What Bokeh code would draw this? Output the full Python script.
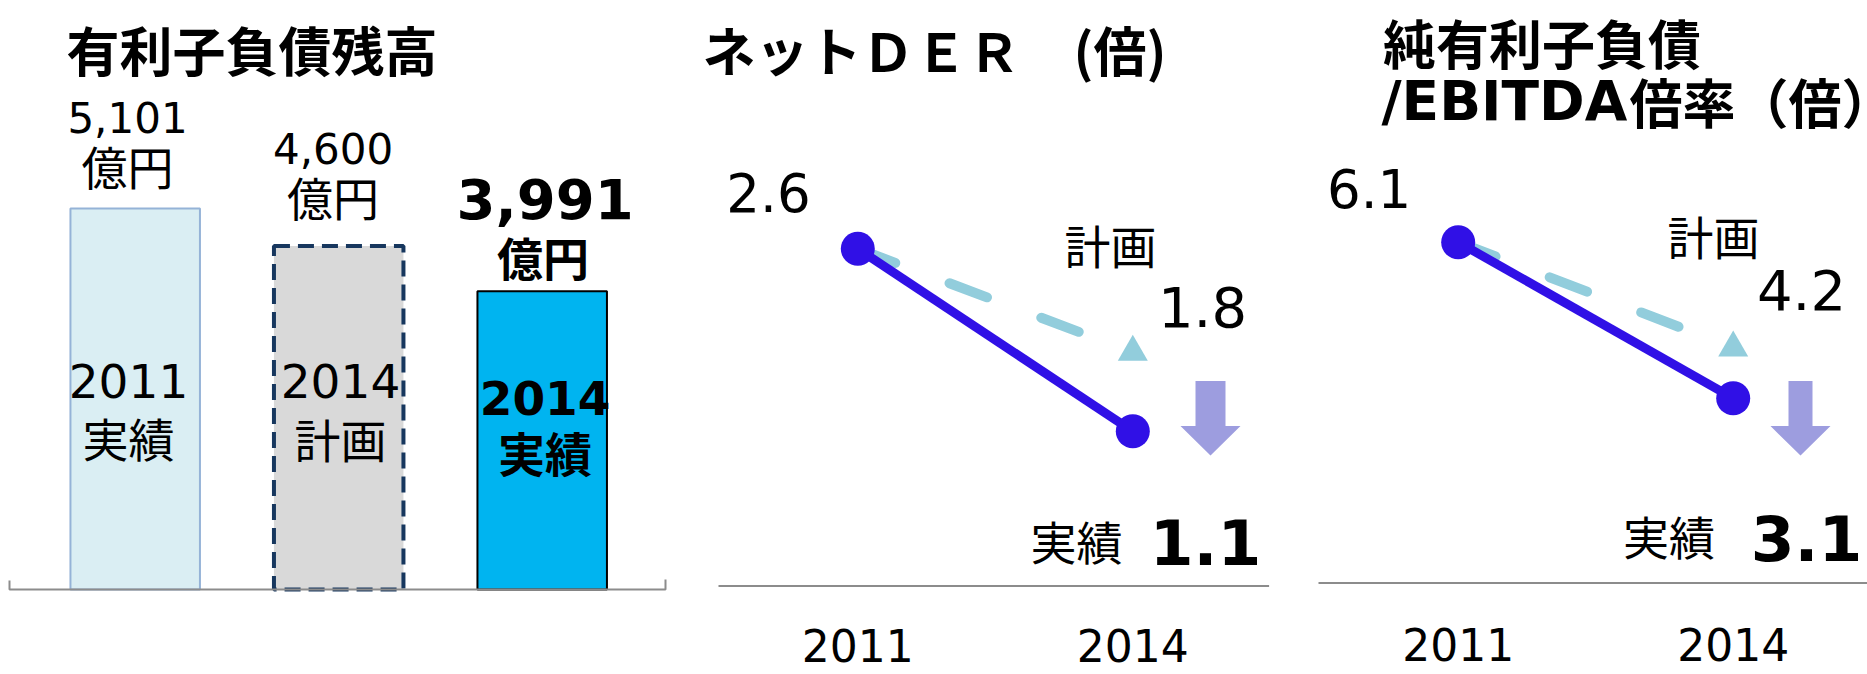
from bokeh.plotting import figure
from bokeh.models import Range1d
from bokeh.core.properties import value
from bokeh.embed import file_html
from bokeh.resources import INLINE

# ---------------- data ----------------
debt_years = ["2011", "2014", "2014"]
debt_kinds = ["実績", "計画", "実績"]
debt_values = [5101, 4600, 3991]          # 億円
debt_value_labels = ["5,101", "4,600", "3,991"]
debt_unit = "億円"

years = [2011, 2014]
year_labels = ["2011", "2014"]
der_actual = [2.6, 1.1]
der_plan = [2.6, 1.75]
der_labels = ["2.6", "1.8", "1.1"]
ebitda_actual = [6.1, 3.1]
ebitda_plan = [6.1, 4.07]
ebitda_labels = ["6.1", "4.2", "3.1"]

titles = ["有利子負債残高", "ネットＤＥＲ　(倍)", "純有利子負債", "/EBITDA", "倍率（倍）"]
plan_word = "計画"
actual_word = "実績"

# ---------------- layout ----------------
W, H, M = 1867, 674, 0
CJK = value("Noto Sans CJK JP")
LAT = value("DejaVu Sans")
BLUE = "#3010E6"
PLAN = "#92CDDC"
ARROW = "#9D9DDF"
AXIS = "#8C8C8C"
BASE_SHIFT = 0.405   # empirical shift of the alphabetic baseline (em)


class Panel:
    def __init__(self, name, xv, xp, xs, yv, yp, ys):
        self.name, self.xv, self.xp, self.xs = name, xv, xp, xs
        self.yv, self.yp, self.ys = yv, yp, ys

    def x(self, px):
        return self.xv + (px - self.xp) / self.xs

    def y(self, py):
        return self.yv - (py - self.yp) / self.ys

    def px(self, x):
        return self.xp + (x - self.xv) * self.xs

    def xrange(self):
        return Range1d(self.x(M), self.x(M + W))

    def yrange(self):
        return Range1d(self.y(M + H), self.y(M))

    def kw(self):
        return dict(x_range_name=self.name, y_range_name=self.name)


P1 = Panel("default", 0, 134.7, 203.5, 0, 589, 0.0747)
P2 = Panel("der", 2011, 857.3, 275 / 3, 2.6, 248.3, 121.6)
P3 = Panel("eb", 2011, 1457.7, 275 / 3, 6.1, 241.7, 52.0)

p = figure(width=W, height=H, x_range=P1.xrange(), y_range=P1.yrange(),
           output_backend="svg", toolbar_location=None,
           x_axis_location=None, y_axis_location=None, min_border=0,
           outline_line_color=None, background_fill_color="white",
           border_fill_color="white")
p.extra_x_ranges = {"der": P2.xrange(), "eb": P3.xrange()}
p.extra_y_ranges = {"der": P2.yrange(), "eb": P3.yrange()}
p.grid.visible = False


def cjk(panel, px, py, s, size, bold=False, align="center"):
    """CJK text, py = visual centre of the glyphs."""
    p.text(x=[panel.x(px)], y=[panel.y(py - 3)], text=[s], text_font=CJK,
           text_font_size=value(f"{size}px"),
           text_font_style="bold" if bold else "normal",
           text_align=align, text_baseline="middle", text_color="#000000",
           **panel.kw())


def num(panel, px, py, s, size, bold=False, align="center"):
    """Latin / digit text, py = bottom of the digits."""
    p.text(x=[panel.x(px)], y=[panel.y(py - BASE_SHIFT * size)], text=[s],
           text_font=LAT, text_font_size=value(f"{size}px"),
           text_font_style="bold" if bold else "normal",
           text_align=align, text_baseline="alphabetic", text_color="#000000",
           **panel.kw())


# ---------------- panel 1: bars ----------------
bar_w = 129.5 / 203.5
bar_styles = [
    dict(fill_color="#DAEEF3", line_color="#95B3D7", line_width=2),
    dict(fill_color="#D9D9D9", line_color="#17375E", line_width=4, line_dash="16 8"),
    dict(fill_color="#00B4F0", line_color="#000000", line_width=2),
]
for i, v in enumerate(debt_values):
    p.vbar(x=[i], top=[v], bottom=0, width=bar_w, **bar_styles[i])

# baseline with end ticks
p.line(x=[P1.x(9), P1.x(9), P1.x(665), P1.x(665)],
       y=[P1.y(580), P1.y(589), P1.y(589), P1.y(579)],
       line_color=AXIS, line_width=2)

cjk(P1, 66, 51.5, titles[0], 53, bold=True, align="left")
val_pos = [(127, 134, 42, False), (332.6, 164.7, 42, False), (544.6, 221.4, 56, True)]
unit_pos = [(127, 167.6), (332.6, 198), (542.4, 258)]
for i in range(3):
    x0, y0, fs, b = val_pos[i]
    num(P1, x0, y0, debt_value_labels[i], fs, bold=b)
    cjk(P1, unit_pos[i][0], unit_pos[i][1], debt_unit, 46, bold=b)
in_pos = [(128, 399.8, 439.7, False), (340, 399.8, 440, False), (544.6, 417, 453.7, True)]
for i in range(3):
    cx, y1, y2, b = in_pos[i]
    num(P1, cx, y1, debt_years[i], 47, bold=b)
    cjk(P1, cx, y2, debt_kinds[i], 47 if b else 46, bold=b)


# ---------------- panels 2 & 3: lines ----------------
def line_panel(P, actual, plan, labels, arrow_cx, shaft, axis_x0, axis_x1, axis_y, pos, sizes):
    kw = P.kw()
    p.line(x=years, y=plan, line_color=PLAN, line_width=10, line_dash="40 58",
           line_cap="round", **kw)
    p.scatter(x=[years[1]], y=[plan[1]], marker="triangle", size=30,
              fill_color=PLAN, line_color=None, **kw)
    p.line(x=years, y=actual, line_color=BLUE, line_width=9, **kw)
    p.scatter(x=years, y=actual, marker="circle", size=34, fill_color=BLUE,
              line_color=None, **kw)
    # down arrow
    hs, hh = shaft / 2, 30
    ax = [arrow_cx - hs, arrow_cx + hs, arrow_cx + hs, arrow_cx + hh, arrow_cx,
          arrow_cx - hh, arrow_cx - hs]
    ay = [380.5, 380.5, 425.6, 425.6, 455, 425.6, 425.6]
    p.patch(x=[P.x(v) for v in ax], y=[P.y(v) for v in ay], fill_color=ARROW,
            line_color=None, **kw)
    # baseline
    p.line(x=[P.x(axis_x0), P.x(axis_x1)], y=[P.y(axis_y)] * 2,
           line_color=AXIS, line_width=2, **kw)
    # texts
    num(P, *pos["a0"], labels[0], sizes[0])
    num(P, *pos["plan"], labels[1], sizes[1])
    cjk(P, *pos["planw"], plan_word, 46)
    cjk(P, *pos["actw"], actual_word, 46)
    num(P, *pos["a1"], labels[2], 63, bold=True)
    for yr, lab in zip(years, year_labels):
        num(P, P.px(yr), pos["yr_y"], lab, 44)


line_panel(P2, der_actual, der_plan, der_labels, 1210, 30, 718, 1268.6, 585.6,
           dict(a0=(768, 213.7), plan=(1202, 328.9), planw=(1110, 246),
                actw=(1076, 542), a1=(1205, 567.5), yr_y=663), (53, 56))
line_panel(P3, ebitda_actual, ebitda_plan, ebitda_labels, 1800, 24, 1318, 1867, 582.5,
           dict(a0=(1368.7, 209.4), plan=(1801, 311.7), planw=(1713, 237.7),
                actw=(1668.5, 537.6), a1=(1806, 563.2), yr_y=662), (53, 56))

cjk(P2, 702, 51.5, titles[1], 53, bold=True, align="left")
cjk(P3, 1382.5, 44.5, titles[2], 53, bold=True, align="left")
num(P3, 1381, 122.5, titles[3], 55, bold=True, align="left")
cjk(P3, 1629, 103, titles[4], 53, bold=True, align="left")

open("out.html", "w").write(file_html(p, INLINE))
